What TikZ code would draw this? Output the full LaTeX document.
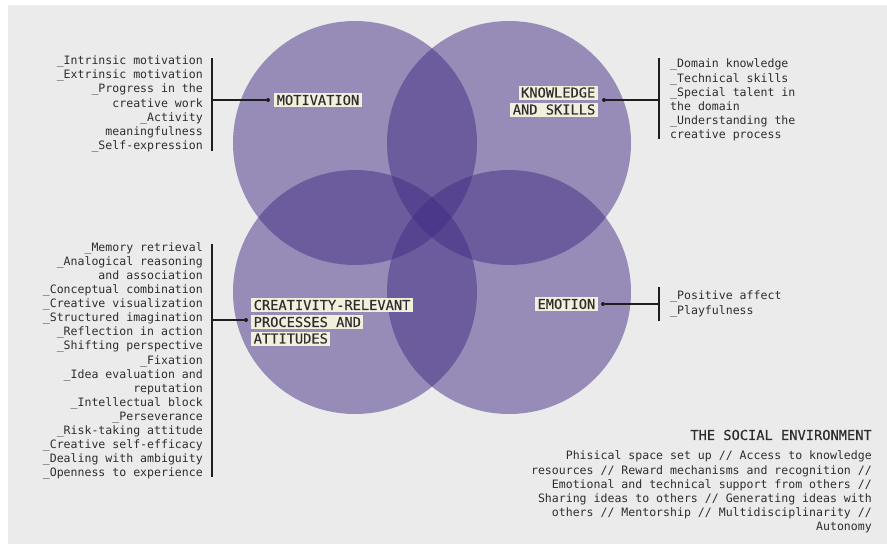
\documentclass[tikz,border=0pt]{standalone}
\usepackage{fontspec}
\newfontfamily\mono{DejaVu Sans Mono}
\newfontfamily\monomed[FakeBold=0.3]{DejaVu Sans Mono}
\definecolor{bg}{HTML}{EBEBEB}
\definecolor{purp}{HTML}{432E85}
\definecolor{hl}{HTML}{F3EFDD}
\definecolor{txt}{HTML}{2E2E2E}
\definecolor{ln}{HTML}{1E1E1E}
\begin{document}
\begin{tikzpicture}[x=1pt,y=-1pt,
  circ/.style={fill=purp,fill opacity=0.5},
  lab/.style={fill=hl,text=txt,inner xsep=2.5pt,inner ysep=0pt,minimum height=14pt,
    font=\monomed\fontsize{13.7}{17}\selectfont},
  lst/.style={text=txt,inner sep=0pt,font=\mono\fontsize{11.55}{14.1}\selectfont},
  dotn/.style={circle,fill=ln,inner sep=0pt,minimum size=4pt},
  conn/.style={draw=ln,line width=1.2pt}]
\useasboundingbox (0,0) rectangle (887,544);
\fill[bg] (8,5) rectangle (887,544);
% circles
\fill[circ] (355,143) circle[radius=122pt];
\fill[circ] (509,143) circle[radius=122pt];
\fill[circ] (355,292) circle[radius=122pt];
\fill[circ] (509,292) circle[radius=122pt];
% labels
\node[lab,anchor=west] (mot) at (274,100) {MOTIVATION};
\node[lab,anchor=east] (kn1) at (598,92.5) {KNOWLEDGE};
\node[lab,anchor=east] (kn2) at (598,109.5) {AND SKILLS};
\node[lab,anchor=east] (emo) at (598,304) {EMOTION};
\node[lab,anchor=west] (cr1) at (251,305) {CREATIVITY-RELEVANT};
\node[lab,anchor=west] (cr2) at (251,322) {PROCESSES AND};
\node[lab,anchor=west] (cr3) at (251,338.5) {ATTITUDES};
% dots
\node[dotn] (dmot) at (268,100) {};
\node[dotn] (dkn) at (604,100) {};
\node[dotn] (demo) at (603,304) {};
\node[dotn] (dcr) at (246,320) {};
% bars
\coordinate (bmt) at (212,58); \coordinate (bmb) at (212,151); \coordinate (bmm) at (212,100);
\coordinate (bkt) at (659,58); \coordinate (bkb) at (659,139); \coordinate (bkm) at (659,100);
\coordinate (bet) at (659,287); \coordinate (beb) at (659,321); \coordinate (bem) at (659,304);
\coordinate (bct) at (212,244); \coordinate (bcb) at (212,477); \coordinate (bcm) at (212,320);
\draw[conn] (bmt) -- (bmb); \draw[conn] (bmm) -- (dmot);
\draw[conn] (bkt) -- (bkb); \draw[conn] (bkm) -- (dkn);
\draw[conn] (bet) -- (beb); \draw[conn] (bem) -- (demo);
\draw[conn] (bct) -- (bcb); \draw[conn] (bcm) -- (dcr);
% lists
\node[lst,anchor=east,align=right] (lmot) at (203,104) {\_Intrinsic motivation\\\_Extrinsic motivation\\\_Progress in the\\creative work\\\_Activity\\meaningfulness\\\_Self-expression};
\node[lst,anchor=west,align=left] (lkn) at (670,100) {\_Domain knowledge\\\_Technical skills\\\_Special talent in\\the domain\\\_Understanding the\\creative process};
\node[lst,anchor=west,align=left] (lemo) at (670,304) {\_Positive affect\\\_Playfulness};
\node[lst,anchor=east,align=right] (lcr) at (203,361) {\_Memory retrieval\\\_Analogical reasoning\\and association\\\_Conceptual combination\\\_Creative visualization\\\_Structured imagination\\\_Reflection in action\\\_Shifting perspective\\\_Fixation\\\_Idea evaluation and\\reputation\\\_Intellectual block\\\_Perseverance\\\_Risk-taking attitude\\\_Creative self-efficacy\\\_Dealing with ambiguity\\\_Openness to experience};
% social environment
\node[lst,anchor=east,font=\monomed\fontsize{13.7}{17}\selectfont] (soct) at (872,435) {THE SOCIAL ENVIRONMENT};
\node[lst,anchor=east,align=right] (socb) at (872,492) {Phisical space set up // Access to knowledge\\resources // Reward mechanisms and recognition //\\Emotional and technical support from others //\\Sharing ideas to others // Generating ideas with\\others // Mentorship // Multidisciplinarity //\\Autonomy};
\end{tikzpicture}
\end{document}
